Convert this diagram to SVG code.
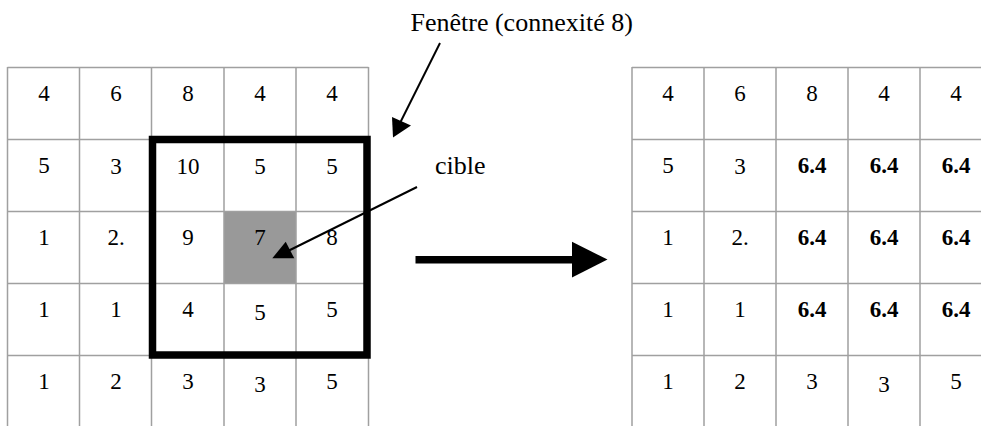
<svg xmlns="http://www.w3.org/2000/svg" width="981" height="426" viewBox="0 0 981 426">
<style>
.g{stroke:#a0a0a0;stroke-width:1.5;fill:none}
.n{font-family:"Liberation Serif","Times New Roman",serif;font-size:23px;fill:#000;text-anchor:middle}
.b{font-weight:bold}
.lbl{font-family:"Liberation Serif","Times New Roman",serif;font-size:26px;fill:#000}
</style>
<rect width="981" height="426" fill="#fff"/>
<g id="grid-left">
<rect x="224" y="211.5" width="72" height="72" fill="#999"/>
<path class="g" d="M7.5 67.5H368.5M7.5 139.5H368.5M7.5 211.5H368.5M7.5 283.5H368.5M7.5 355.5H368.5M7.5 67V426M79.5 67V426M151.5 67V426M224 67V426M296 67V426M368.5 67V426"/>
<g class="n">
<text x="44" y="101">4</text><text x="116" y="101">6</text><text x="188" y="101">8</text><text x="260" y="101">4</text><text x="332" y="101">4</text>
<text x="44" y="173">5</text><text x="116" y="174">3</text><text x="188" y="174">10</text><text x="260" y="174">5</text><text x="332" y="174">5</text>
<text x="44" y="245">1</text><text x="116" y="245">2.</text><text x="188" y="245">9</text><text x="260" y="245">7</text><text x="332" y="245">8</text>
<text x="44" y="317">1</text><text x="116" y="317">1</text><text x="188" y="317">4</text><text x="260" y="320">5</text><text x="332" y="317">5</text>
<text x="44" y="389">1</text><text x="116" y="389">2</text><text x="188" y="389">3</text><text x="260" y="392">3</text><text x="332" y="389">5</text>
</g>
<rect id="window" x="152.5" y="139.5" width="214.5" height="215.5" fill="none" stroke="#000" stroke-width="7.5"/>
</g>
<g id="grid-right">
<path class="g" d="M632 67.5H981M632 139.5H981M632 211.5H981M632 283.5H981M632 355.5H981M632 67V426M704 67V426M776 67V426M848 67V426M920 67V426"/>
<g class="n">
<text x="668" y="101">4</text><text x="740" y="101">6</text><text x="812" y="101">8</text><text x="884" y="101">4</text><text x="956" y="101">4</text>
<text x="668" y="173">5</text><text x="740" y="174">3</text><text class="b" x="812" y="173">6.4</text><text class="b" x="884" y="173">6.4</text><text class="b" x="956" y="173">6.4</text>
<text x="668" y="245">1</text><text x="740" y="245">2.</text><text class="b" x="812" y="245">6.4</text><text class="b" x="884" y="245">6.4</text><text class="b" x="956" y="245">6.4</text>
<text x="668" y="317">1</text><text x="740" y="317">1</text><text class="b" x="812" y="317">6.4</text><text class="b" x="884" y="317">6.4</text><text class="b" x="956" y="317">6.4</text>
<text x="668" y="389">1</text><text x="740" y="389">2</text><text x="812" y="389">3</text><text x="884" y="392">3</text><text x="956" y="389">5</text>
</g>
</g>
<g id="label-fenetre"><text class="lbl" x="410.5" y="31">Fenêtre (connexité 8)</text></g>
<g id="label-cible"><text class="lbl" x="435" y="174">cible</text></g>
<g id="connectors">
<line x1="440" y1="43" x2="400" y2="123" stroke="#000" stroke-width="2"/>
<polygon points="393,137.5 392,117 411,125.5" fill="#000"/>
<line x1="417" y1="187" x2="288" y2="251" stroke="#000" stroke-width="2"/>
<polygon points="272.3,258.3 285.7,241.7 294.3,258.3" fill="#000"/>
<line x1="415.5" y1="259.7" x2="575" y2="259.7" stroke="#000" stroke-width="7.5"/>
<polygon points="572,241.7 607.5,259.6 572,277.5" fill="#000"/>
</g>
</svg>
